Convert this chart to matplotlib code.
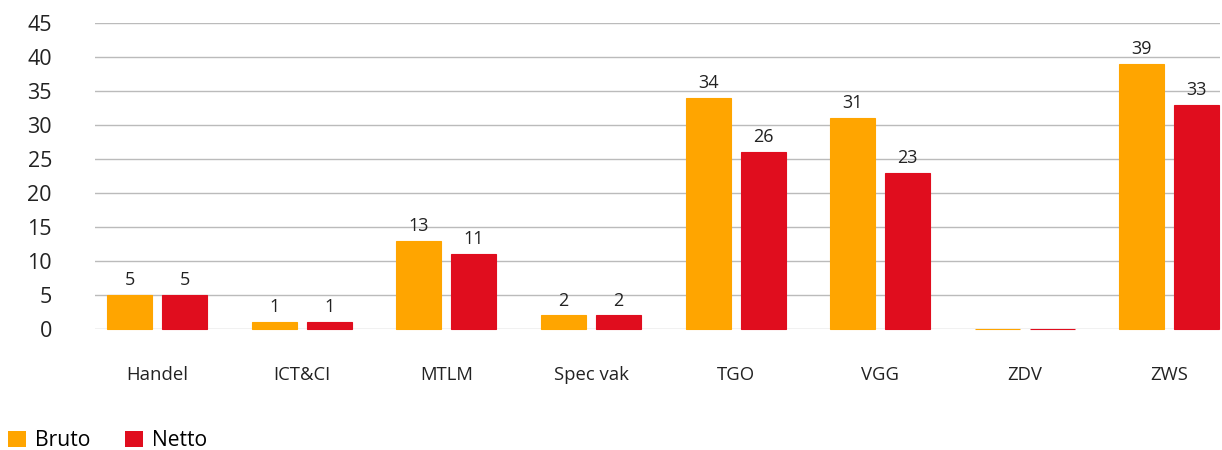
import matplotlib
matplotlib.use("Agg")
import matplotlib.pyplot as plt
import numpy as np
from matplotlib.patches import Patch

categories = ["Handel", "ICT&CI", "MTLM", "Spec vak", "TGO", "VGG", "ZDV", "ZWS"]
bruto = [5, 1, 13, 2, 34, 31, 0, 39]
netto = [5, 1, 11, 2, 26, 23, 0, 33]
yticks = [0, 5, 10, 15, 20, 25, 30, 35, 40, 45]

orange = "#FFA500"
red = "#E00D1E"

plt.rcParams['font.family'] = ['Open Sans', 'DejaVu Sans']

fig = plt.figure(figsize=(12.22, 4.5), dpi=100)
ax = fig.add_axes([95/1222, 1-329/450, (1220-95)/1222, (329-23)/450])

x = np.arange(len(categories))
w = 0.311
gap = 0.069
off = (w + gap) / 2
b1 = ax.bar(x - off, bruto, w, color=orange, edgecolor=orange, linewidth=0.8, zorder=3, clip_on=False)
b2 = ax.bar(x + off, netto, w, color=red, edgecolor=red, linewidth=0.8, zorder=3, clip_on=False)

for bars, vals in ((b1, bruto), (b2, netto)):
    for rect, v in zip(bars, vals):
        if v > 0:
            ax.text(rect.get_x() + rect.get_width()/2, v + 0.85, str(v),
                    ha='center', va='bottom', fontsize=13, color='#222222')

ax.set_ylim(0, 45)
ax.set_xlim(-0.43, 7.35)
ax.set_yticks(yticks)
ax.yaxis.grid(True, color='#BBBBBB', linewidth=1, zorder=0)
ax.set_axisbelow(True)
for s in ax.spines.values():
    s.set_visible(False)
ax.tick_params(axis='y', length=0, pad=31, labelsize=15.5, labelcolor='#222222')
ax.tick_params(axis='x', length=0, pad=27, labelsize=13.3, labelcolor='#222222')
ax.set_xticks(x)
ax.set_xticklabels(categories)

handles = [Patch(facecolor=orange, label="Bruto"), Patch(facecolor=red, label="Netto")]
fig.legend(handles=handles, loc='lower left', bbox_to_anchor=(0.0, -0.022), ncol=2,
           frameon=False, fontsize=15.2, handlelength=0.82, handleheight=0.82,
           handletextpad=0.45, columnspacing=1.65, borderaxespad=0.0, borderpad=0.4)

fig.savefig("out.png", dpi=100)
